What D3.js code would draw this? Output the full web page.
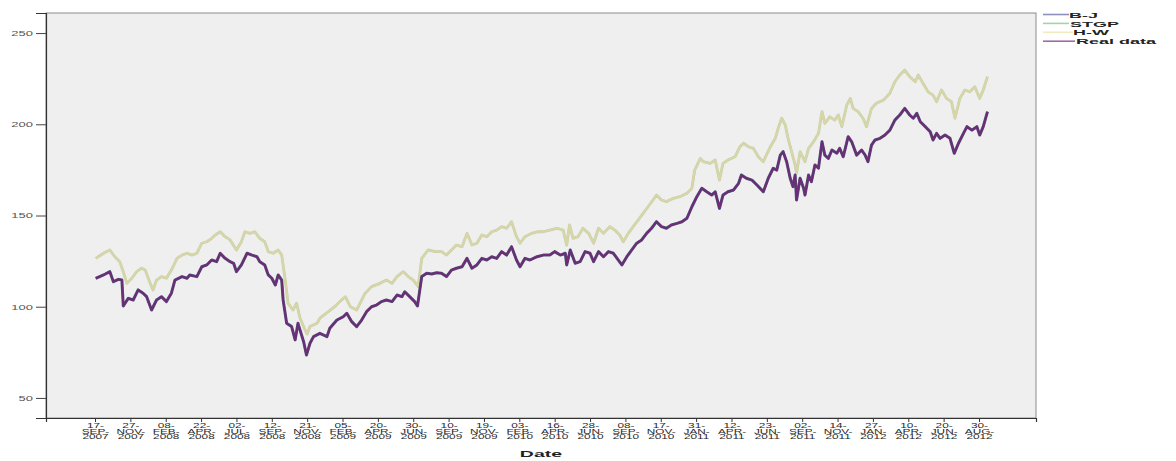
<!DOCTYPE html>
<html>
<head>
<meta charset="utf-8">
<script src="https://cdn.jsdelivr.net/npm/d3@7"></script>
<style>
  html, body { margin: 0; padding: 0; background: #ffffff; }
  svg { display: block; font-family: "Liberation Sans", Arial, sans-serif; }
</style>
</head>
<body>
<svg id="chart" width="1176" height="461"></svg>
<script>
// Tick labels on the trading-day axis (one every 50 trading days)
const dateLabels = [
  "17-SEP-2007", "27-NOV-2007", "08-FEB-2008", "22-APR-2008", "02-JUL-2008",
  "12-SEP-2008", "21-NOV-2008", "05-FEB-2009", "20-APR-2009", "30-JUN-2009",
  "10-SEP-2009", "19-NOV-2009", "03-FEB-2010", "16-APR-2010", "28-JUN-2010",
  "08-SEP-2010", "17-NOV-2010", "31-JAN-2011", "12-APR-2011", "23-JUN-2011",
  "02-SEP-2011", "14-NOV-2011", "27-JAN-2012", "10-APR-2012", "20-JUN-2012",
  "30-AUG-2012"
];
const dayStep = 50;
const yTicks = [50, 100, 150, 200, 250];

// [trading day, index value]
const realData = [
  [1,115.6],[12,117.4],[21,119.2],[26,113.7],[33,115.0],[38,114.6],[40,100.4],[47,104.6],[54,103.7],[61,109.2],
  [68,107.4],[73,105.5],[80,98.2],[87,103.7],[94,105.5],[101,102.8],[108,107.4],[113,114.6],[123,116.5],[130,115.6],
  [134,117.4],[144,116.5],[151,121.9],[158,122.9],[165,125.6],[172,124.7],[177,129.3],[184,126.5],[191,124.7],[196,123.8],
  [200,119.2],[207,122.9],[215,129.3],[222,128.3],[229,127.4],[233,124.7],[240,122.9],[245,117.4],[250,115.6],[255,111.9],
  [259,117.4],[264,114.6],[266,103.7],[271,90.9],[278,89.1],[283,81.8],[287,90.9],[295,80.8],[299,73.5],[304,80.0],
  [309,83.6],[318,85.4],[328,83.6],[332,88.2],[342,92.7],[351,94.5],[356,96.4],[363,91.8],[370,89.1],[377,92.7],
  [384,97.3],[391,100.0],[398,100.9],[405,102.8],[412,103.7],[420,102.8],[427,106.4],[434,105.5],[438,108.2],[445,105.5],
  [452,102.8],[456,100.4],[462,116.5],[469,118.3],[476,117.9],[483,118.6],[490,118.3],[497,116.5],[504,120.1],[511,121.1],
  [519,121.9],[526,126.5],[533,121.1],[540,122.9],[547,126.5],[554,125.6],[561,127.4],[568,126.5],[575,130.2],[582,128.3],
  [589,132.9],[596,125.6],[601,121.9],[608,126.5],[615,125.6],[625,127.4],[634,128.3],[643,128.3],[650,130.2],[658,128.3],
  [665,129.3],[667,122.9],[672,131.1],[679,123.8],[686,124.7],[693,130.2],[700,129.3],[705,124.7],[712,130.2],[719,127.4],
  [726,130.2],[733,129.3],[740,125.6],[745,122.9],[752,127.4],[759,131.1],[766,134.8],[773,136.6],[780,140.2],[787,143.0],
  [794,146.6],[801,143.9],[808,143.0],[815,144.8],[823,145.7],[830,146.6],[837,148.5],[844,154.8],[851,160.3],[858,164.9],
  [865,163.0],[872,161.2],[877,163.0],[883,153.9],[888,161.2],[895,163.0],[903,164.0],[910,167.6],[914,172.2],[921,170.4],
  [929,169.4],[936,166.7],[945,163.0],[952,170.4],[959,175.9],[964,174.9],[969,183.1],[973,185.0],[978,179.5],[983,170.4],
  [987,165.8],[990,172.2],[992,158.5],[997,170.4],[1002,164.9],[1004,161.2],[1009,172.2],[1013,168.5],[1018,177.7],[1023,175.9],
  [1028,190.4],[1032,183.1],[1037,181.3],[1042,185.9],[1049,184.1],[1053,186.8],[1058,182.2],[1065,193.2],[1070,190.4],[1077,183.1],
  [1084,185.9],[1089,183.1],[1093,179.5],[1098,188.6],[1103,191.4],[1110,192.3],[1117,194.1],[1124,196.8],[1131,202.3],[1138,205.1],
  [1145,208.7],[1152,205.1],[1157,203.3],[1162,206.0],[1167,201.4],[1174,198.7],[1181,195.9],[1185,191.4],[1190,195.0],[1195,192.3],
  [1202,194.1],[1209,192.3],[1215,184.1],[1221,189.6],[1228,195.0],[1233,198.7],[1240,196.8],[1247,198.7],[1251,194.1],[1256,198.7],
  [1262,206.9]
];

const hwData = [
  [1,126.5],[12,129.3],[21,131.1],[28,127.4],[35,124.7],[40,119.2],[45,112.8],[52,115.6],[59,119.2],[66,121.1],
  [71,120.1],[78,112.8],[82,109.2],[87,114.6],[94,116.5],[101,115.6],[108,120.1],[116,126.5],[123,128.3],[130,129.3],
  [137,128.3],[144,129.3],[151,134.8],[158,135.6],[165,137.5],[170,139.3],[177,141.1],[184,138.4],[191,136.6],[200,131.1],
  [207,135.6],[212,141.1],[219,140.2],[226,141.1],[233,137.5],[240,135.6],[245,130.2],[252,129.3],[259,131.1],[264,128.3],
  [269,114.6],[273,101.9],[280,98.2],[285,101.9],[290,93.7],[297,87.2],[300,85.0],[304,89.1],[314,90.9],[318,93.7],
  [330,97.3],[339,100.0],[346,102.8],[354,105.5],[361,100.0],[370,98.2],[382,107.4],[391,111.0],[403,112.8],[412,114.6],
  [420,112.8],[427,116.5],[436,119.2],[443,116.5],[450,114.6],[457,111.0],[462,126.5],[471,131.1],[481,130.2],[490,130.2],
  [497,128.3],[504,131.1],[511,133.8],[519,132.9],[526,140.2],[533,133.8],[540,134.8],[547,139.3],[554,138.4],[561,141.1],
  [568,142.0],[575,143.9],[582,143.0],[589,146.6],[596,138.4],[601,134.8],[608,138.4],[617,140.2],[627,141.1],[634,141.1],
  [643,142.0],[653,143.0],[662,142.0],[667,133.8],[671,144.8],[676,137.5],[683,138.4],[690,143.0],[698,140.2],[705,134.8],
  [712,143.0],[719,140.2],[728,143.9],[735,142.0],[742,139.3],[747,135.6],[754,140.2],[761,143.9],[768,147.5],[775,151.2],
  [782,154.8],[789,158.5],[794,161.2],[801,158.5],[808,157.6],[818,159.4],[827,160.3],[837,162.2],[844,164.9],[848,174.9],
  [856,181.3],[860,179.5],[870,178.6],[877,180.4],[883,169.4],[888,178.6],[895,180.4],[905,182.2],[912,187.7],[917,189.6],
  [924,187.7],[931,186.8],[938,182.2],[945,179.5],[955,187.7],[962,192.3],[966,197.8],[971,203.3],[976,199.6],[980,192.3],
  [985,185.0],[990,177.7],[992,173.1],[997,185.0],[1004,179.5],[1009,186.8],[1016,190.4],[1023,195.0],[1028,206.9],[1032,200.5],
  [1039,204.1],[1046,202.3],[1051,205.1],[1056,198.7],[1063,210.5],[1068,214.2],[1072,208.7],[1079,206.9],[1086,203.3],[1091,198.7],
  [1098,208.7],[1105,211.5],[1115,213.3],[1124,217.0],[1131,223.3],[1138,227.0],[1145,229.7],[1152,226.1],[1160,223.3],[1164,227.0],
  [1171,222.4],[1178,217.8],[1185,216.0],[1190,212.4],[1197,218.8],[1204,214.2],[1211,212.4],[1216,203.3],[1223,214.2],[1230,218.8],
  [1237,217.8],[1244,220.6],[1251,214.2],[1256,218.8],[1262,226.1]
];

// At this scale the B-J forecast lies on the real series and STGP on H-W
const bjData = realData;
const stgpData = hwData;

const seriesNames = ["B-J", "STGP", "H-W", "Real data"];

// ---- layout ----
const svg = d3.select("#chart");
const plot = { left: 46, right: 1036, top: 13, bottom: 418 };

const x = d3.scaleLinear().domain([-69.3, 1330.6]).range([plot.left, plot.right]);
const y = d3.scaleLinear().domain([39, 261]).range([plot.bottom, plot.top]);

// plot background & frame
svg.append("rect")
  .attr("x", plot.left).attr("y", plot.top)
  .attr("width", plot.right - plot.left).attr("height", plot.bottom - plot.top)
  .attr("fill", "#efefef").attr("stroke", "#8c8c8c").attr("stroke-width", 1);

// series styles: drawn back to front
const styles = [
  { name: "STGP", data: stgpData, color: "#c4d0a4", width: 2.8 },
  { name: "H-W", data: hwData, color: "#d8d6a9", width: 2.0 },
  { name: "B-J", data: bjData, color: "#4f5677", width: 3.0 },
  { name: "Real data", data: realData, color: "#6e2b77", width: 2.0 }
];

const line = d3.line().x(d => x(d[0])).y(d => y(d[1]));
svg.append("g").selectAll("path").data(styles).join("path")
  .attr("d", s => line(s.data))
  .attr("fill", "none")
  .attr("stroke", s => s.color)
  .attr("stroke-width", s => s.width)
  .attr("stroke-linejoin", "round");

// y axis
const yAxis = svg.append("g")
  .attr("transform", `translate(${plot.left},0)`)
  .call(d3.axisLeft(y).tickValues(yTicks).tickSize(10).tickPadding(3));
yAxis.select(".domain").attr("stroke", "#333").attr("stroke-width", 1.2);
yAxis.selectAll(".tick line").attr("stroke", "#444");
yAxis.selectAll(".tick text")
  .attr("font-family", "'Liberation Sans', Arial, sans-serif")
  .attr("font-size", 13)
  .attr("fill", "#555")
  .attr("dy", "0.36em")
  .attr("transform", "scale(1,0.5)");

// x axis (three-line date labels)
const tickIdx = dateLabels.map((_, i) => i * dayStep);
const xAxis = svg.append("g")
  .attr("transform", `translate(0,${plot.bottom})`)
  .call(d3.axisBottom(x).tickValues(tickIdx).tickSize(4).tickFormat(""));
xAxis.select(".domain").attr("stroke", "#333").attr("stroke-width", 1.2);
xAxis.selectAll(".tick line").attr("stroke", "#333");
xAxis.selectAll(".tick").each(function (d, i) {
  const parts = dateLabels[i].split("-");
  const t = d3.select(this).append("text")
    .attr("font-family", "'Liberation Sans', Arial, sans-serif")
    .attr("font-size", 11.8)
    .attr("fill", "#2a2a2a")
    .attr("text-anchor", "middle")
    .attr("transform", "scale(1,0.55)");
  const rows = [parts[0] + "-", parts[1] + "-", parts[2]];
  const base = [17.3, 28.5, 38.8];
  rows.forEach((r, k) => t.append("tspan").attr("x", 0).attr("y", base[k]).text(r));
});

// axis title
svg.append("text")
  .attr("transform", `translate(${(plot.left + plot.right) / 2},457) scale(1,0.5)`)
  .attr("text-anchor", "middle")
  .attr("font-size", 19.5)
  .attr("font-weight", "bold")
  .attr("fill", "#222")
  .text("Date");

// legend
const legendColors = { "B-J": "#8b90bd", "STGP": "#a6d3a6", "H-W": "#efedc0", "Real data": "#a06aa8" };
const legendRows = [
  { lineY: 14.5, baseY: 17.6, lineEnd: 1069, textX: 1069 },
  { lineY: 23.4, baseY: 26.5, lineEnd: 1069, textX: 1070 },
  { lineY: 32.3, baseY: 35.4, lineEnd: 1073, textX: 1073 },
  { lineY: 41.2, baseY: 44.3, lineEnd: 1075, textX: 1076 }
];
const lg = svg.append("g");
seriesNames.forEach((name, i) => {
  const r = legendRows[i];
  lg.append("line")
    .attr("x1", 1043).attr("x2", r.lineEnd)
    .attr("y1", r.lineY).attr("y2", r.lineY)
    .attr("stroke", legendColors[name]).attr("stroke-width", 1.6);
  lg.append("text")
    .attr("transform", `translate(${r.textX},${r.baseY}) scale(1,0.44)`)
    .attr("font-size", 18)
    .attr("font-weight", "bold")
    .attr("fill", "#222")
    .text(name);
});
</script>
</body>
</html>
